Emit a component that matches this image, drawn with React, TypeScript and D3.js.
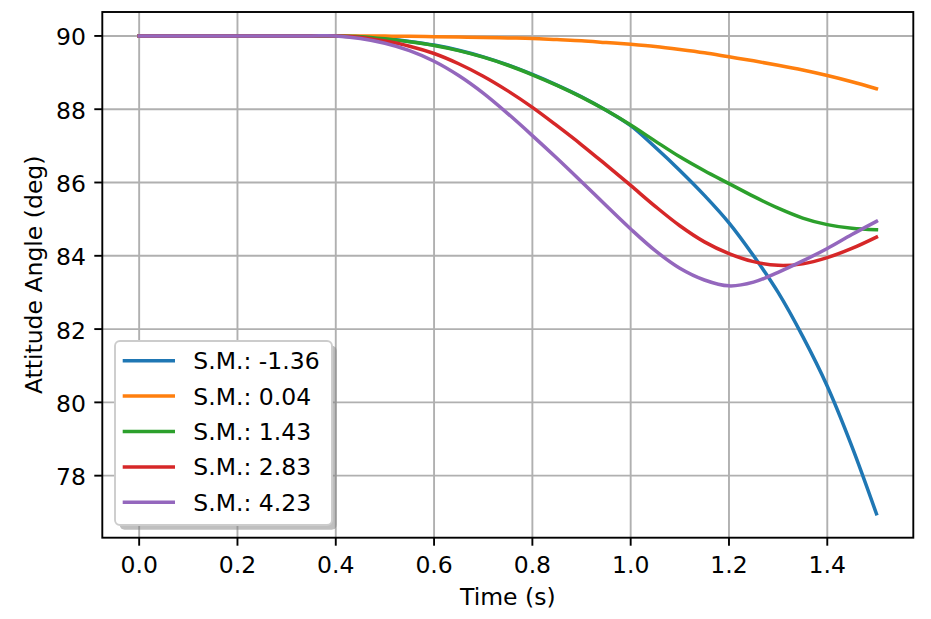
import React from 'react';
import * as d3 from 'd3';

const times = [0, 0.05, 0.1, 0.15, 0.2, 0.25, 0.3, 0.35, 0.4, 0.45, 0.5, 0.55, 0.6, 0.65, 0.7, 0.75, 0.8, 0.85, 0.9, 0.95, 1.0, 1.05, 1.1, 1.15, 1.2, 1.25, 1.3, 1.35, 1.4, 1.45, 1.5];

const smNeg136 = [90, 90, 90, 90, 90, 90, 90, 90, 90, 89.98, 89.93, 89.85, 89.75, 89.61, 89.43, 89.21, 88.95, 88.66, 88.34, 87.97, 87.55, 86.96, 86.33, 85.65, 84.9, 84.0, 83.0, 81.8, 80.44, 78.8, 76.96];
const sm004 = [90, 90, 90, 90, 90, 90, 90, 90, 90, 89.999, 89.995, 89.99, 89.98, 89.97, 89.96, 89.945, 89.93, 89.9, 89.87, 89.82, 89.77, 89.71, 89.63, 89.54, 89.43, 89.32, 89.2, 89.07, 88.92, 88.75, 88.56];
const sm143 = [90, 90, 90, 90, 90, 90, 90, 90, 90, 89.98, 89.92, 89.84, 89.74, 89.6, 89.42, 89.2, 88.94, 88.65, 88.33, 87.97, 87.57, 87.13, 86.7, 86.32, 85.97, 85.62, 85.3, 85.03, 84.85, 84.75, 84.71];
const sm283 = [90, 90, 90, 90, 90, 90, 90, 90, 90, 89.96, 89.86, 89.72, 89.52, 89.24, 88.9, 88.5, 88.05, 87.55, 87.03, 86.48, 85.92, 85.35, 84.82, 84.38, 84.06, 83.84, 83.74, 83.78, 83.95, 84.2, 84.51];
const sm423 = [90, 90, 90, 90, 90, 90, 90, 90, 90, 89.93, 89.8, 89.6, 89.31, 88.92, 88.44, 87.88, 87.28, 86.66, 86.02, 85.37, 84.73, 84.14, 83.66, 83.34, 83.18, 83.28, 83.55, 83.86, 84.2, 84.58, 84.94];

const seriesLabels = ['S.M.: -1.36', 'S.M.: 0.04', 'S.M.: 1.43', 'S.M.: 2.83', 'S.M.: 4.23'];
const seriesValues = [smNeg136, sm004, sm143, sm283, sm423];
const colors = ['#1f77b4', '#ff7f0e', '#2ca02c', '#d62728', '#9467bd'];

const xTicks = [0, 0.2, 0.4, 0.6, 0.8, 1.0, 1.2, 1.4];
const yTicks = [78, 80, 82, 84, 86, 88, 90];

export default function App() {
  const W = 931, H = 619;
  const left = 102.3, right = 913.3, top = 12, bottom = 537.7;
  const x = d3.scaleLinear().domain([-0.075, 1.575]).range([left, right]);
  const y = d3.scaleLinear().domain([76.307, 90.653]).range([bottom, top]);
  const font = "'DejaVu Sans', sans-serif";
  const fs = 23.5;

  const line = d3
    .line<number>()
    .x((_, i) => x(times[i]))
    .y((d) => y(d))
    .curve(d3.curveCatmullRom.alpha(0.5));

  const lgX = 115, lgY = 341, lgW = 217, lgH = 184;
  const rowY = (i: number) => 360.7 + i * 35.4;

  return (
    <svg width={W} height={H} style={{ position: 'absolute', left: 0, top: 0, background: '#fff' }} fontFamily={font}>
      <rect x={0} y={0} width={W} height={H} fill="#fff" />
      {/* grid */}
      {xTicks.map((t) => (
        <line key={'gx' + t} x1={x(t)} x2={x(t)} y1={top} y2={bottom} stroke="#b0b0b0" strokeWidth={1.9} />
      ))}
      {yTicks.map((t) => (
        <line key={'gy' + t} x1={left} x2={right} y1={y(t)} y2={y(t)} stroke="#b0b0b0" strokeWidth={1.9} />
      ))}
      {/* series */}
      {seriesValues.map((vals, i) => (
        <path key={'s' + i} d={line(vals) || ''} fill="none" stroke={colors[i]} strokeWidth={3.5} strokeLinecap="square" strokeLinejoin="round" />
      ))}
      {/* spines */}
      <rect x={left} y={top} width={right - left} height={bottom - top} fill="none" stroke="#000" strokeWidth={1.9} />
      {/* x ticks */}
      {xTicks.map((t) => (
        <g key={'xt' + t}>
          <line x1={x(t)} x2={x(t)} y1={bottom} y2={bottom + 8} stroke="#000" strokeWidth={1.9} />
          <text x={x(t)} y={573.3} textAnchor="middle" fontSize={fs} fill="#000">
            {t.toFixed(1)}
          </text>
        </g>
      ))}
      {/* y ticks */}
      {yTicks.map((t) => (
        <g key={'yt' + t}>
          <line x1={left - 8} x2={left} y1={y(t)} y2={y(t)} stroke="#000" strokeWidth={1.9} />
          <text x={86} y={y(t) + 9.5} textAnchor="end" fontSize={fs} fill="#000">
            {t}
          </text>
        </g>
      ))}
      {/* axis labels */}
      <text x={(left + right) / 2} y={605} textAnchor="middle" fontSize={fs} fill="#000">
        Time (s)
      </text>
      <text transform={`translate(41.5, ${(top + bottom) / 2}) rotate(-90)`} textAnchor="middle" fontSize={fs} fill="#000">
        Attitude Angle (deg)
      </text>
      {/* legend */}
      <rect x={lgX + 4.7} y={lgY + 4.7} width={lgW} height={lgH} rx={5} fill="#808080" fillOpacity={0.5} />
      <rect x={lgX} y={lgY} width={lgW} height={lgH} rx={5} fill="#fff" stroke="#cccccc" strokeWidth={1.9} />
      {seriesLabels.map((lab, i) => (
        <g key={'lg' + i}>
          <line x1={122.7} x2={175} y1={rowY(i)} y2={rowY(i)} stroke={colors[i]} strokeWidth={3.5} />
          <text x={193.3} y={rowY(i) + 8.5} fontSize={fs} fill="#000">
            {lab}
          </text>
        </g>
      ))}
    </svg>
  );
}
